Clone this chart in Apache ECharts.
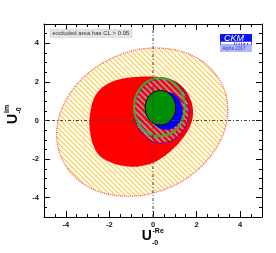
<!DOCTYPE html>
<html><head><meta charset="utf-8">
<script src="https://cdn.jsdelivr.net/npm/echarts@6/dist/echarts.min.js"></script>
<style>html,body{margin:0;padding:0;background:#fff}#c{width:276px;height:253px}</style>
</head><body><div id="c"></div>
<script>
// ---- data ----
const xRange = [-5, 5];
const yRange = [-5, 5];
const xTickLabels = [-4, -2, 0, 2, 4];
const yTickLabels = [-4, -2, 0, 2, 4];
const crossX = [0];
const crossY = [0];

// outer (yellow hatched) contour
const outerX = [3.43, 3.30, 2.90, 2.28, 1.47, 0.52, -0.50, -1.51, -2.46, -3.27, -3.89, -4.29, -4.42, -4.29, -3.89, -3.27, -2.46, -1.51, -0.50, 0.52, 1.47, 2.28, 2.90, 3.30];
const outerY = [0.55, 1.51, 2.36, 3.05, 3.52, 3.74, 3.71, 3.41, 2.88, 2.15, 1.26, 0.28, -0.72, -1.68, -2.53, -3.22, -3.69, -3.91, -3.88, -3.58, -3.05, -2.32, -1.43, -0.45];

// red filled contour
const redX = [1.84, 1.76, 1.55, 1.22, 0.78, 0.18, -0.45, -1.15, -1.80, -2.32, -2.68, -2.85, -2.92, -2.88, -2.76, -2.48, -1.98, -1.35, -0.70, -0.05, 0.55, 1.12, 1.55, 1.78];
const redY = [0.45, 0.98, 1.48, 1.88, 2.15, 2.27, 2.28, 2.22, 2.05, 1.72, 1.22, 0.60, -0.05, -0.65, -1.22, -1.80, -2.15, -2.36, -2.39, -2.22, -1.82, -1.25, -0.62, -0.05];

// hatched region with blue dotted border
const hatchX = [1.65, 1.55, 1.28, 0.87, 0.39, -0.09, -0.50, -0.77, -0.87, -0.77, -0.50, -0.09, 0.39, 0.87, 1.28, 1.55];
const hatchY = [0.52, 1.17, 1.71, 2.08, 2.21, 2.08, 1.71, 1.17, 0.52, -0.13, -0.67, -1.04, -1.17, -1.04, -0.67, -0.13];

// blue filled contour
const blueX = [1.36, 1.30, 1.14, 0.89, 0.60, 0.31, 0.06, -0.10, -0.16, -0.10, 0.06, 0.31, 0.60, 0.89, 1.14, 1.30];
const blueY = [0.50, 0.88, 1.19, 1.41, 1.48, 1.41, 1.19, 0.88, 0.50, 0.12, -0.19, -0.41, -0.48, -0.41, -0.19, 0.12];

// green ring contour
const ringX = [1.47, 1.38, 1.13, 0.75, 0.30, -0.15, -0.53, -0.78, -0.87, -0.78, -0.53, -0.15, 0.30, 0.75, 1.13, 1.38];
const ringY = [0.69, 1.27, 1.76, 2.09, 2.20, 2.09, 1.76, 1.27, 0.69, 0.11, -0.38, -0.70, -0.82, -0.70, -0.38, 0.11];

// green filled contour
const greenX = [1.04, 0.99, 0.83, 0.61, 0.34, 0.07, -0.16, -0.31, -0.36, -0.31, -0.16, 0.07, 0.34, 0.61, 0.83, 0.99];
const greenY = [0.66, 1.00, 1.30, 1.49, 1.56, 1.49, 1.30, 1.00, 0.66, 0.32, 0.02, -0.17, -0.24, -0.17, 0.02, 0.32];

// ---- patterns ----
function hatchCanvas(s, bg, color, w) {
  const c = document.createElement('canvas');
  c.width = s; c.height = s;
  const g = c.getContext('2d');
  if (bg) { g.fillStyle = bg; g.fillRect(0, 0, s, s); }
  g.strokeStyle = color; g.lineWidth = w;
  for (let k = -1; k <= 1; k++) {
    g.beginPath();
    g.moveTo(-1, -1 + k * s);
    g.lineTo(s + 1, s + 1 + k * s);
    g.stroke();
  }
  return c;
}
const yellowPat = { image: hatchCanvas(5, null, '#ffc933', 1.1), repeat: 'repeat' };
const greyPat = { image: hatchCanvas(6, '#ff0000', '#9a92a8', 1.8), repeat: 'repeat' };

function polySeries(xs, ys, style, z) {
  return {
    type: 'custom', silent: true, z: z, data: [[0, 0]],
    renderItem: function (params, api) {
      const pts = xs.map(function (x, i) { return api.coord([x, ys[i]]); });
      return { type: 'polygon', shape: { points: pts, smooth: 0.3 }, style: style };
    }
  };
}
function crossSeries() {
  return {
    type: 'custom', silent: true, z: 20, data: [[0, 0]],
    renderItem: function (params, api) {
      const st = { stroke: '#444', lineWidth: 1, lineDash: [3, 2, 1, 2], fill: null };
      const h = crossY.map(function (y) {
        const a = api.coord([xRange[0], y]), b = api.coord([xRange[1], y]);
        return { type: 'line', shape: { x1: a[0], y1: a[1], x2: b[0], y2: b[1] }, style: st };
      });
      const v = crossX.map(function (x) {
        const a = api.coord([x, yRange[0]]), b = api.coord([x, yRange[1]]);
        return { type: 'line', shape: { x1: a[0], y1: a[1], x2: b[0], y2: b[1] }, style: st };
      });
      return { type: 'group', children: h.concat(v) };
    }
  };
}

const lab = { fontSize: 7.5, fontWeight: 'bold', color: '#111', fontFamily: 'Liberation Sans' };
function xAx(pos, major) {
  return {
    type: 'value', min: xRange[0], max: xRange[1], position: pos,
    interval: major ? undefined : 0.5,
    axisLine: { show: !major, onZero: false, lineStyle: { color: '#000', width: 1 } },
    axisTick: major ? { inside: true, length: 6, customValues: xTickLabels, lineStyle: { color: '#000' } }
                    : { inside: true, length: 3, lineStyle: { color: '#000' } },
    axisLabel: (major && pos === 'bottom') ? Object.assign({ customValues: xTickLabels, margin: 4 }, lab) : { show: false },
    splitLine: { show: false }
  };
}
function yAx(pos, major) {
  return {
    type: 'value', min: yRange[0], max: yRange[1], position: pos,
    interval: major ? undefined : 0.5,
    axisLine: { show: !major, onZero: false, lineStyle: { color: '#000', width: 1 } },
    axisTick: major ? { inside: true, length: 6, customValues: yTickLabels, lineStyle: { color: '#000' } }
                    : { inside: true, length: 3, lineStyle: { color: '#000' } },
    axisLabel: (major && pos === 'left') ? Object.assign({ customValues: yTickLabels, margin: 5 }, lab) : { show: false },
    splitLine: { show: false }
  };
}

const chart = echarts.init(document.getElementById('c'), null, { renderer: 'canvas' });
chart.setOption({
  animation: false,
  backgroundColor: '#fff',
  grid: { left: 44, right: 14, top: 24, bottom: 36 },
  xAxis: [xAx('bottom', false), xAx('bottom', true), xAx('top', false), xAx('top', true)],
  yAxis: [yAx('left', false), yAx('left', true), yAx('right', false), yAx('right', true)],
  series: [
    polySeries(outerX, outerY, { fill: yellowPat, stroke: '#ff4a4a', lineWidth: 1.2, lineDash: [1, 1] }, 2),
    polySeries(redX, redY, { fill: '#ff0000', stroke: null }, 3),
    polySeries(hatchX, hatchY, { fill: greyPat, stroke: '#0000ff', lineWidth: 1.2, lineDash: [1, 1.5] }, 4),
    polySeries(blueX, blueY, { fill: '#0000ff', stroke: null }, 5),
    polySeries(ringX, ringY, { fill: null, stroke: '#2fb52f', lineWidth: 2 }, 6),
    polySeries(greenX, greenY, { fill: '#008f00', stroke: '#000', lineWidth: 1 }, 7),
    crossSeries()
  ],
  graphic: [
    { type: 'rect', z: 100, shape: { x: 50, y: 29.5, width: 82, height: 8 }, style: { fill: '#e4e4e4', stroke: '#cfcfcf', lineWidth: 0.5 } },
    { type: 'text', z: 101, style: { x: 91, y: 33.7, text: 'excluded area has CL > 0.95', font: '6px "Liberation Sans"', fill: '#333', textAlign: 'center', textVerticalAlign: 'middle' } },
    { type: 'rect', z: 100, shape: { x: 220, y: 34, width: 32, height: 7.5 }, style: { fill: '#0a14f0' } },
    { type: 'text', z: 101, style: { x: 234, y: 38, text: 'CKM', font: 'italic 9px "Liberation Sans"', fill: '#fff', textAlign: 'center', textVerticalAlign: 'middle' } },
    { type: 'rect', z: 100, shape: { x: 220.5, y: 41.5, width: 31, height: 3.5 }, style: { fill: '#fff', stroke: '#0a14f0', lineWidth: 0.7 } },
    { type: 'text', z: 101, style: { x: 241, y: 43.4, text: 'f i t t e r', font: 'bold 4px "Liberation Sans"', fill: '#0a14f0', textAlign: 'center', textVerticalAlign: 'middle' } },
    { type: 'rect', z: 100, shape: { x: 220, y: 46, width: 32, height: 6 }, style: { fill: '#b4b8f4' } },
    { type: 'text', z: 101, style: { x: 234, y: 49.2, text: 'Alpha 2017', font: '4.5px "Liberation Sans"', fill: '#3040d0', textAlign: 'center', textVerticalAlign: 'middle' } },
    // x axis title
    { type: 'text', z: 101, style: { x: 146.7, y: 236.5, text: 'U', font: 'bold 14px "Liberation Sans"', fill: '#000', textAlign: 'center', textVerticalAlign: 'middle' } },
    { type: 'text', z: 101, style: { x: 152.5, y: 231, text: '-Re', font: 'bold 7px "Liberation Sans"', fill: '#000', textAlign: 'left', textVerticalAlign: 'middle' } },
    { type: 'text', z: 101, style: { x: 152, y: 243, text: '-0', font: 'bold 7px "Liberation Sans"', fill: '#000', textAlign: 'left', textVerticalAlign: 'middle' } },
    // y axis title (rotated)
    { type: 'group', z: 101, x: 13.3, y: 119, rotation: Math.PI / 2, children: [
      { type: 'text', z: 101, style: { x: 0, y: 0, text: 'U', font: 'bold 14px "Liberation Sans"', fill: '#000', textAlign: 'center', textVerticalAlign: 'middle' } },
      { type: 'text', z: 101, style: { x: 6, y: -6.5, text: 'Im', font: 'bold 7px "Liberation Sans"', fill: '#000', textAlign: 'left', textVerticalAlign: 'middle' } },
      { type: 'text', z: 101, style: { x: 5.5, y: 5.5, text: '-0', font: 'bold 7px "Liberation Sans"', fill: '#000', textAlign: 'left', textVerticalAlign: 'middle' } }
    ] }
  ]
});
</script>
</body></html>
